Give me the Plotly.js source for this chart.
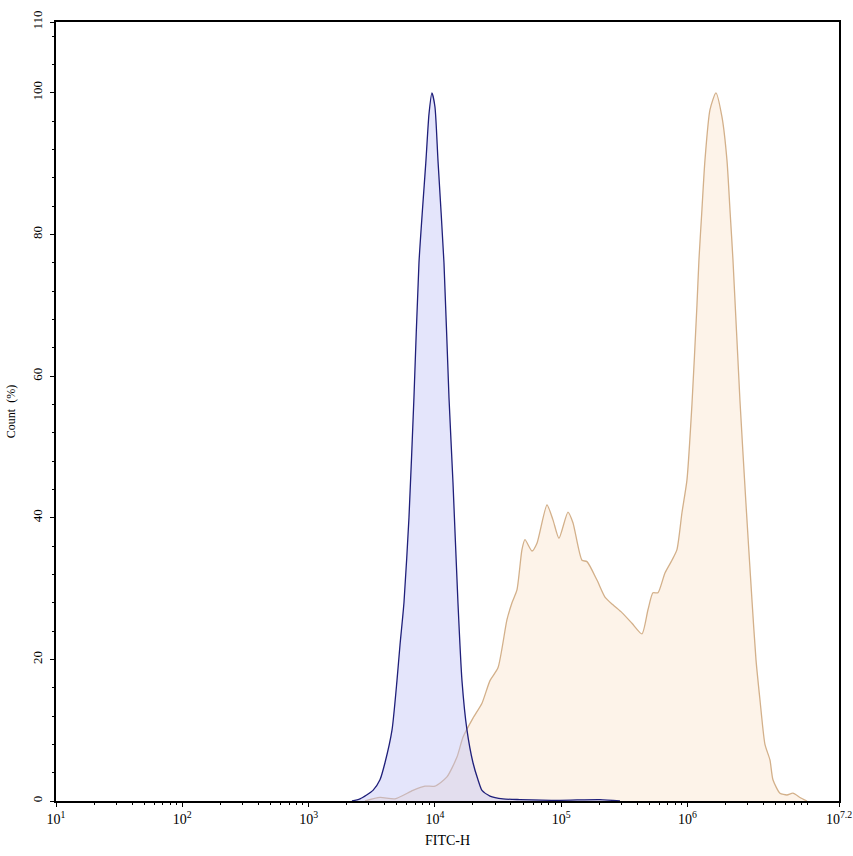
<!DOCTYPE html>
<html>
<head>
<meta charset="utf-8">
<script src="https://cdn.plot.ly/plotly-3.0.1.min.js"></script>
<style>html,body{margin:0;padding:0;background:#fff;}#chart{width:853px;height:856px;}</style>
</head>
<body>
<div id="chart"></div>
<script>
// Control sample (blue) histogram: FITC-H value vs Count (%)
var controlX = [2206, 2553, 3236, 3675, 4027, 4576, 5011, 5293, 5692, 6235, 6830, 7483, 8503, 8981, 9484, 10018, 10580, 11805, 12931, 13910, 15235, 16391, 17962, 20036, 21950, 23605, 27315, 34610, 47190, 97840, 202800, 292100];
var controlY = [0, 0.3, 1.5, 3, 5.4, 10, 17, 22, 28, 40, 57, 76, 90.5, 97, 100, 98, 90.5, 76, 57, 45, 28, 17, 10, 5.4, 3, 1.5, 0.7, 0.3, 0.2, 0.1, 0.2, 0];

// Stained sample (orange) histogram
var stainX = [2797, 3675, 4832, 6708, 8349, 10018, 12467, 14962, 16693, 20036, 23605, 27315, 31594, 37232, 40800, 44668, 48929, 51687, 58737, 64343, 77214, 86115, 96072, 113200, 124000, 146100, 160100, 192100, 222300, 257100, 302900, 363600, 436300, 486700, 533200, 584100, 663500, 754000, 825800, 904600, 990800, 1085400, 1189000, 1233000, 1302000, 1376000, 1507000, 1681000, 1876000, 2055000, 2171000, 2293000, 2604000, 2906000, 3241000, 3487000, 3751000, 4108000, 4501000, 4753000, 5401000, 6137000, 6844000, 7776000, 8836000];
var stainY = [0, 0.5, 0.3, 1.5, 2.1, 2.1, 3.4, 6.2, 9, 11.7, 13.8, 17, 18.8, 25.6, 28, 29.8, 35.5, 36.9, 35.3, 36.4, 41.8, 39.7, 37.1, 40.8, 39.3, 34, 33.8, 31.2, 28.8, 27.7, 26.6, 25.1, 23.6, 27, 29.4, 29.4, 32.2, 34, 35.5, 40.7, 45.3, 56, 70, 76.4, 83.5, 90.5, 97.6, 100, 96.6, 90.5, 83.5, 76.4, 56.6, 42, 28.4, 20, 14.3, 8, 5.8, 3, 1.1, 0.85, 1.1, 0.5, 0];

// Axis ticks
var xTickVals = [10, 100, 1000, 10000, 100000, 1000000, 15848932];
var xTickText = ['10<sup>1</sup>', '10<sup>2</sup>', '10<sup>3</sup>', '10<sup>4</sup>', '10<sup>5</sup>', '10<sup>6</sup>', '10<sup>7.2</sup>'];
var yTickVals = [0, 20, 40, 60, 80, 100, 110];
var yTickText = ['0', '20', '40', '60', '80', '100', '110'];

var xMinor = [];
for (var e = 1; e <= 7; e++) {
  for (var m = 2; m <= 9; m++) {
    var v = m * Math.pow(10, e);
    if (v < 15848932) xMinor.push(v);
  }
}

var fam = '"Liberation Serif", "Times New Roman", serif';

var traces = [
  {
    x: stainX, y: stainY, type: 'scatter', mode: 'lines',
    line: {color: '#d3b08a', width: 1.3, shape: 'spline', smoothing: 0.6},
    fill: 'tozeroy', fillcolor: 'rgba(250,228,206,0.45)',
    hoverinfo: 'x+y', name: 'Stained'
  },
  {
    x: controlX, y: controlY, type: 'scatter', mode: 'lines',
    line: {color: '#1f1f7a', width: 1.3, shape: 'spline', smoothing: 0.6},
    fill: 'tozeroy', fillcolor: 'rgba(190,192,245,0.42)',
    hoverinfo: 'x+y', name: 'Control'
  }
];

var layout = {
  width: 853, height: 856,
  margin: {l: 56, r: 14, t: 22, b: 55},
  paper_bgcolor: '#fff', plot_bgcolor: '#fff',
  showlegend: false,
  font: {family: fam, size: 13, color: '#000'},
  xaxis: {
    type: 'log', range: [1, 7.2],
    tickmode: 'array', tickvals: xTickVals, ticktext: xTickText,
    ticks: 'outside', ticklen: 4, tickwidth: 1, tickcolor: '#000',
    minor: {tickmode: 'array', tickvals: xMinor, ticks: 'outside', ticklen: 2, tickwidth: 1, tickcolor: '#000', showgrid: false},
    showline: true, linecolor: '#000', linewidth: 1.5, mirror: true,
    showgrid: false, zeroline: false,
    tickfont: {family: fam, size: 14, color: '#000'},
    title: {text: 'FITC-H', font: {family: fam, size: 14, color: '#000'}, standoff: 10}
  },
  yaxis: {
    range: [0, 110],
    tickmode: 'array', tickvals: yTickVals, ticktext: yTickText,
    tickangle: -90,
    ticklabelstandoff: 3,
    ticks: 'outside', ticklen: 4, tickwidth: 1, tickcolor: '#000',
    minor: {dtick: 4, ticks: 'outside', ticklen: 2, tickwidth: 1, tickcolor: '#000', showgrid: false},
    showline: true, linecolor: '#000', linewidth: 1.5, mirror: true,
    showgrid: false, zeroline: false,
    tickfont: {family: fam, size: 13, color: '#000'},
    title: {text: 'Count  (%)', font: {family: fam, size: 12, color: '#000'}, standoff: 12}
  }
};

Plotly.newPlot('chart', traces, layout, {displayModeBar: false});
</script>
</body>
</html>
